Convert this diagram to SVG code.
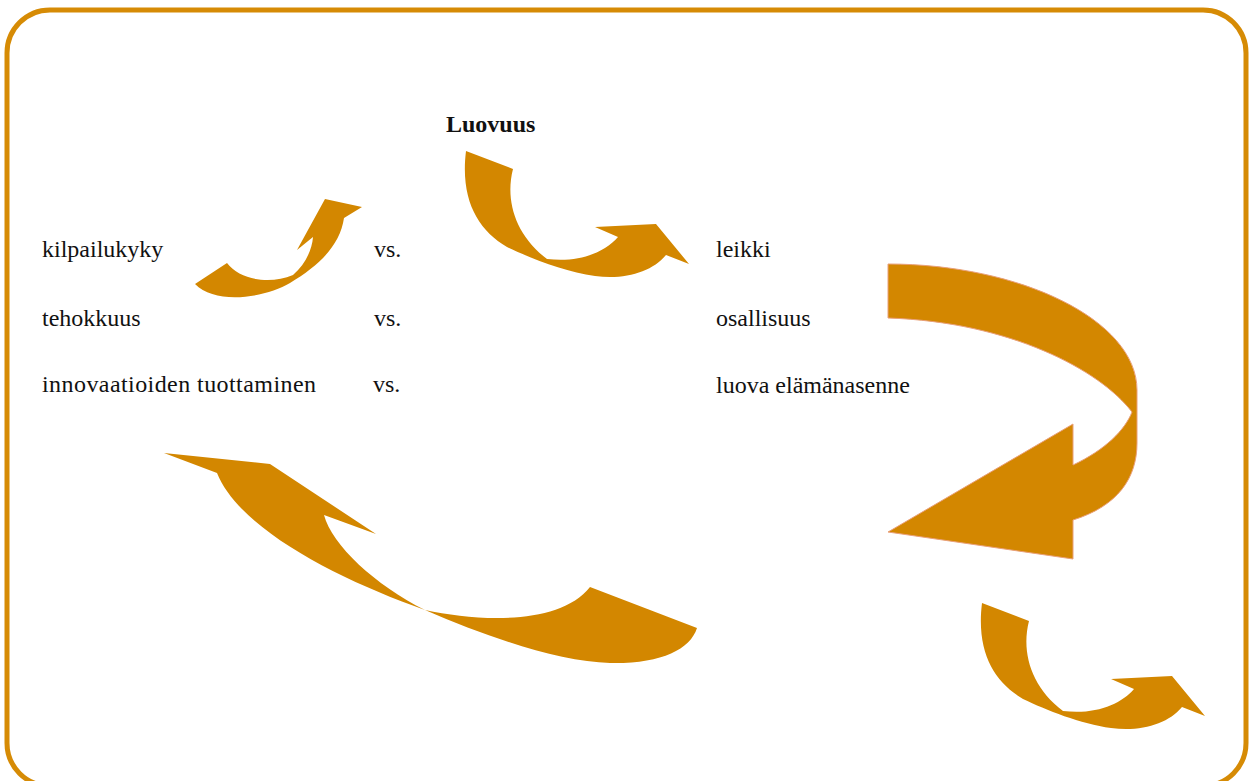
<svg xmlns="http://www.w3.org/2000/svg" width="1250" height="781" viewBox="0 0 1250 781">
  <defs>
    <style>
      .t { font-family: "Liberation Serif", "Times New Roman", serif; font-size: 24px; fill: #111; }
      .b { font-weight: bold; }
      .arr { fill: #d38700; }
      .frame { fill: #ffffff; stroke: #d68b05; stroke-width: 5; }
    </style>
    <path id="curl" d="M466,151 L513,169 C505,200 515,235 547,259 C580,263 605,252 618,237 L595,227 L656,224 L689,264 L666,255 C652,272 625,280 595,276 C565,272 530,258 507,247 C478,230 460,200 466,151 Z"/>
  </defs>
  <rect width="1250" height="781" fill="#ffffff"/>
  <rect class="frame" x="7" y="10" width="1239" height="776" rx="43" ry="43"/>

  <g id="texts">
    <text class="t b" x="446" y="132">Luovuus</text>
    <text class="t" x="42" y="257">kilpailukyky</text>
    <text class="t" x="42" y="326">tehokkuus</text>
    <text class="t" x="42" y="392" textLength="274" lengthAdjust="spacing">innovaatioiden tuottaminen</text>
    <text class="t" x="374" y="257">vs.</text>
    <text class="t" x="374" y="326">vs.</text>
    <text class="t" x="373" y="392">vs.</text>
    <text class="t" x="716" y="257">leikki</text>
    <text class="t" x="716" y="326">osallisuus</text>
    <text class="t" x="716" y="393">luova elämänasenne</text>
  </g>

  <g id="connectors">
    <path id="arrow-small" class="arr" d="M195,284 L227,263 C240,280 270,285 293,275 C305,265 312,250 313,237 L297,250 L325,199 L362,207 L344,218 C340,245 320,265 290,283 C265,298 215,305 195,284 Z"/>
    <use id="arrow-luovuus" class="arr" href="#curl"/>
    <path id="arrow-right" class="arr" stroke="#e9a07a" stroke-width="1" d="M888,264 C1020,264 1137,320 1137,390 L1137,443 C1137,478 1118,506 1073,520 L1073,559 L888,532 L1073,424 L1073,465 C1105,450 1125,430 1132,412 C1100,370 1010,322 888,318 Z"/>
    <path id="arrow-bottom" class="arr" d="M164,453 L270,464 L376,534 L324,515 C332,545 375,585 425,610 C480,622 560,625 590,587 L697,628 C690,650 660,664 610,663 C560,662 490,638 425,610 C340,580 240,530 217,473 Z"/>
    <use id="arrow-corner" class="arr" href="#curl" transform="translate(516,452)"/>
  </g>
</svg>
